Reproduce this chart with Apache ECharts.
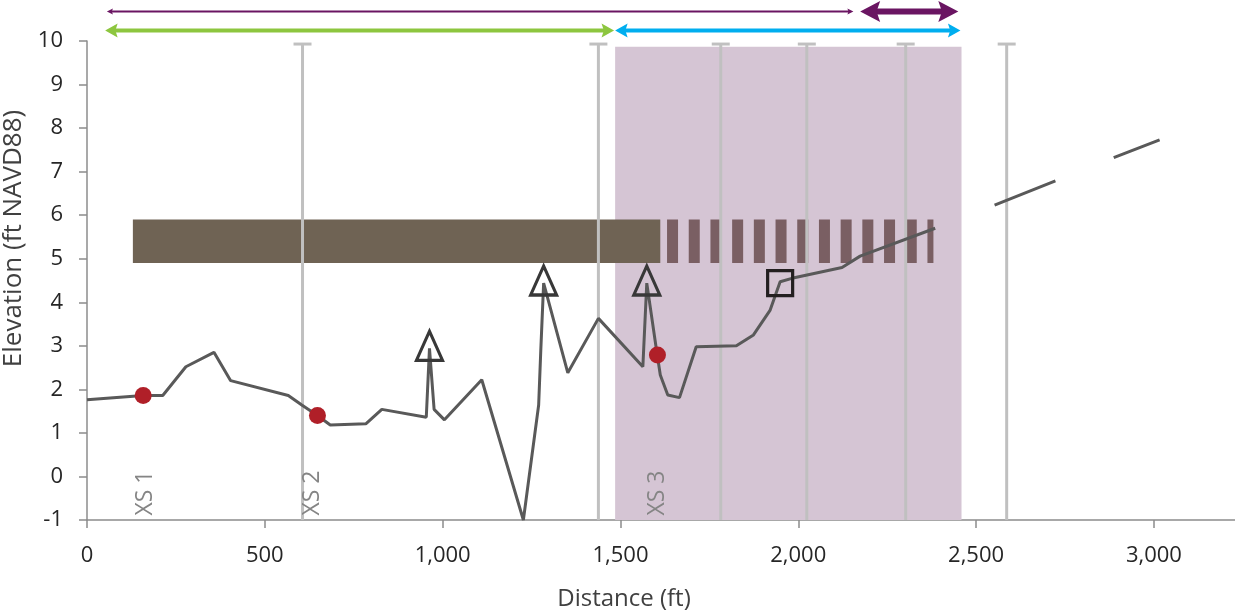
<!DOCTYPE html>
<html>
<head>
<meta charset="utf-8">
<script src="https://cdn.jsdelivr.net/npm/echarts@6/dist/echarts.min.js"></script>
<style>
html,body{margin:0;padding:0;background:#fff;}
#chart{width:1235px;height:616px;}
</style>
</head>
<body>
<div id="chart"></div>
<script>
// ---- data ----
const xTicks = [0, 500, 1000, 1500, 2000, 2500, 3000];
const yTicks = [-1, 0, 1, 2, 3, 4, 5, 6, 7, 8, 9, 10];
// ground profile [distance ft, elevation ft]; '-' = gap
const profile = [
  [0,1.76],[158,1.86],[213,1.86],[278,2.52],[357,2.85],[404,2.20],[566,1.86],[604,1.64],
  [648,1.40],[684,1.18],[784,1.21],[829,1.54],[954,1.36],[963,2.94],[976,1.54],[1005,1.30],
  [1110,2.22],[1227,-1.0],[1270,1.64],[1276,2.90],[1284,4.44],[1352,2.38],[1438,3.63],
  [1563,2.52],[1574,4.44],[1600,2.98],[1612,2.33],[1633,1.87],[1666,1.81],[1713,2.98],
  [1826,3.00],[1874,3.25],[1921,3.82],[1949,4.47],[1982,4.55],[2123,4.80],[2174,5.06],
  [2385,5.70],[2470,'-'],[2552,6.23],[2723,6.79],[2800,'-'],[2887,7.32],[3016,7.73]
];
const xsPoints = [[158,1.86],[648,1.40],[1604,2.79]];
const xsNames = ['XS 1','XS 2','XS 3'];
const xsLabelX = [163, 633, 1603];
const xsLabelElev = -0.38;
const triangles = [[963,3.0],[1284,4.5],[1574,4.5]];
const squares = [[1949,4.44]];
const sectionLines = [606, 1438, 1782, 2024, 2302, 2586];
const sectionTop = 9.93;
const shadedZone = [[1485, 2459, -1, 9.87]];
const solidBar = [[129, 1612, 4.9, 5.9]];
const dashedBar = [[1631, 2380, 4.9, 5.9]];
// arrows: tip-to-tip spans (ft) and row (1 = upper, 0 = lower)
const purpleThin = [56, 2155, 1];
const purpleThick = [2174, 2450, 1];
const greenSpan = [51, 1482, 0];
const blueSpan = [1485, 2456, 0];

const X_MAX = 3228;
const FONT = '"Open Sans", "Noto Sans", sans-serif';

function fmt(v){ return String(v).replace(/\B(?=(\d{3})+(?!\d))/g, ','); }

function rectRender(color){
  return function(params, api){
    const p0 = api.coord([api.value(0), api.value(3)]);
    const p1 = api.coord([api.value(1), api.value(2)]);
    return {type:'rect', shape:{x:p0[0], y:p0[1], width:p1[0]-p0[0], height:p1[1]-p0[1]},
            style:{fill:color}};
  };
}

function arrowSeries(span, color, width, headLen, headW){
  return {
    type:'custom', xAxisIndex:1, yAxisIndex:1, silent:true, z:5,
    data:[span], encode:{x:[0,1], y:2},
    renderItem:function(params, api){
      const row = api.value(2) + 0.5;
      const a = api.coord([api.value(0), row]);
      const b = api.coord([api.value(1), row]);
      const y = a[1], L = headLen, H = headW/2, n = L*0.82;
      return {type:'group', children:[
        {type:'line', shape:{x1:a[0]+L*0.7, y1:y, x2:b[0]-L*0.7, y2:y},
         style:{stroke:color, lineWidth:width, lineCap:'butt'}},
        {type:'polygon', shape:{points:[[a[0],y],[a[0]+L,y-H],[a[0]+n,y],[a[0]+L,y+H]]},
         style:{fill:color}},
        {type:'polygon', shape:{points:[[b[0],y],[b[0]-L,y-H],[b[0]-n,y],[b[0]-L,y+H]]},
         style:{fill:color}}
      ]};
    }
  };
}

const chart = echarts.init(document.getElementById('chart'));
const option = {
  animation:false,
  backgroundColor:'#ffffff',
  textStyle:{fontFamily:FONT},
  grid:[
    {left:87, right:0, top:41, bottom:96, containLabel:false, outerBoundsMode:'none'},
    {left:87, right:0, top:2, height:38, containLabel:false, outerBoundsMode:'none'}
  ],
  xAxis:[
    {
      type:'value', min:0, max:X_MAX, interval:500, gridIndex:0,
      name:'Distance (ft)', nameLocation:'middle', nameGap:67,
      nameTextStyle:{fontSize:24, color:'#404040', fontFamily:FONT, padding:[0,74,0,0]},
      axisLine:{show:true, onZero:false, lineStyle:{color:'#8c8c8c', width:1.5}},
      axisTick:{show:true, inside:false, length:8, customValues:xTicks, lineStyle:{color:'#8c8c8c', width:1.5}},
      axisLabel:{show:true, margin:25, fontSize:22, color:'#262626', fontFamily:FONT,
                 customValues:xTicks, formatter:function(v){ return fmt(v); }},
      splitLine:{show:false}
    },
    {type:'value', min:0, max:X_MAX, gridIndex:1, show:false}
  ],
  yAxis:[
    {
      type:'value', min:-1, max:10, interval:1, gridIndex:0,
      name:'Elevation (ft NAVD88)', nameLocation:'middle', nameGap:54,
      nameTextStyle:{fontSize:26, color:'#404040', fontFamily:FONT, padding:[0,0,0,84]},
      axisLine:{show:true, onZero:false, lineStyle:{color:'#8c8c8c', width:1.5}},
      axisTick:{show:true, inside:false, length:8, lineStyle:{color:'#8c8c8c', width:1.5}},
      axisLabel:{show:true, margin:24, fontSize:22, color:'#262626', fontFamily:FONT},
      splitLine:{show:false}
    },
    {type:'value', min:0, max:2, gridIndex:1, show:false}
  ],
  series:[
    {type:'custom', name:'zone', z:1, silent:true, data:shadedZone,
     encode:{x:[0,1], y:[2,3]}, renderItem:rectRender('#d5c5d4')},
    {type:'custom', name:'levee', z:2, silent:true, data:solidBar,
     encode:{x:[0,1], y:[2,3]}, renderItem:rectRender('#6f6354')},
    {type:'custom', name:'levee dashed', z:2, silent:true, data:dashedBar,
     encode:{x:[0,1], y:[2,3]},
     renderItem:function(params, api){
       const mid = (api.value(2)+api.value(3))/2;
       const a = api.coord([api.value(0), mid]);
       const b = api.coord([api.value(1), mid]);
       const h = api.coord([api.value(0), api.value(2)])[1] - api.coord([api.value(0), api.value(3)])[1];
       return {type:'line', shape:{x1:a[0], y1:a[1], x2:b[0], y2:b[1]},
               style:{stroke:'#7a5f63', lineWidth:h, lineDash:[11,10.7], lineCap:'butt'}};
     }},
    {type:'custom', name:'sections', z:3, silent:true,
     data:sectionLines.map(function(x){ return [x, sectionTop]; }),
     encode:{x:0, y:1},
     renderItem:function(params, api){
       const top = api.coord([api.value(0), api.value(1)]);
       const bot = api.coord([api.value(0), -1]);
       return {type:'group', children:[
         {type:'line', shape:{x1:top[0], y1:top[1], x2:bot[0], y2:bot[1]}, style:{stroke:'#c0c0c0', lineWidth:3}},
         {type:'line', shape:{x1:top[0]-9, y1:top[1], x2:top[0]+9, y2:top[1]}, style:{stroke:'#c0c0c0', lineWidth:3}}
       ]};
     }},
    {type:'line', name:'ground', z:4, data:profile, showSymbol:false, symbol:'none',
     connectNulls:false, lineStyle:{color:'#595959', width:3}, silent:true},
    {type:'scatter', name:'xs', z:5, data:xsPoints, symbolSize:17,
     itemStyle:{color:'#b01f28', opacity:1}, silent:true},
    {type:'scatter', name:'tri', z:5, data:triangles, symbol:'triangle', symbolSize:[26,29],
     itemStyle:{color:'rgba(0,0,0,0)', borderColor:'#383838', borderWidth:3.2, opacity:1}, silent:true},
    {type:'scatter', name:'sq', z:5, data:squares, symbol:'rect', symbolSize:25,
     itemStyle:{color:'rgba(0,0,0,0)', borderColor:'#231f20', borderWidth:3.2, opacity:1}, silent:true},
    {type:'custom', name:'xs labels', z:5, silent:true,
     data:xsLabelX.map(function(x){ return [x, xsLabelElev]; }),
     encode:{x:0, y:1},
     renderItem:function(params, api){
       const p = api.coord([api.value(0), api.value(1)]);
       return {type:'text', x:p[0], y:p[1], rotation:Math.PI/2,
               style:{text:xsNames[params.dataIndex], fill:'#858585', fontSize:23,
                      fontFamily:FONT, align:'center', verticalAlign:'middle'}};
     }},
    arrowSeries(purpleThin, '#6a1562', 2, 6, 6),
    arrowSeries(purpleThick, '#6a1562', 6, 20, 21),
    arrowSeries(greenSpan, '#8dc63f', 4, 12.5, 14),
    arrowSeries(blueSpan, '#00aeef', 4, 12.5, 14)
  ]
};
chart.setOption(option);
</script>
</body>
</html>
